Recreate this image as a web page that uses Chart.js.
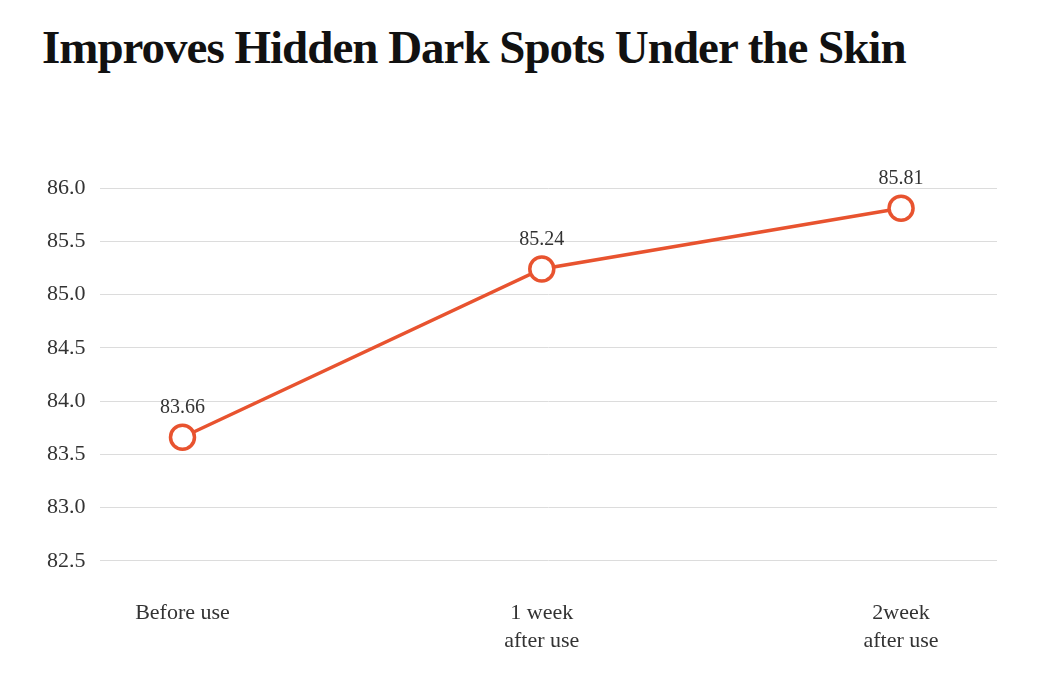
<!DOCTYPE html>
<html><head><meta charset="utf-8">
<script src="https://cdn.jsdelivr.net/npm/chart.js@4"></script>
<style>
body{margin:0;background:#fff;width:1050px;height:700px;overflow:hidden;position:relative}
h1{position:absolute;left:42px;top:20px;margin:0;font-family:"Liberation Serif","DejaVu Serif",serif;font-weight:bold;font-size:47px;letter-spacing:-1px;color:#111}
#c{position:absolute;left:0;top:0}
</style></head><body>
<h1>Improves Hidden Dark Spots Under the Skin</h1>
<canvas id="c" width="1050" height="700"></canvas>
<script>
const categories=[["Before use"],["1 week","after use"],["2week","after use"]];
const values=[83.66,85.24,85.81];
const yTicks=[82.5,83.0,83.5,84.0,84.5,85.0,85.5,86.0];
const color="#E8532F";
const font={family:"'Liberation Serif','DejaVu Serif',serif",size:22,lineHeight:1.3};
const labelPlugin={id:'lbl',afterDatasetsDraw(ch){const ctx=ch.ctx;const m=ch.getDatasetMeta(0);ctx.save();ctx.font="20px 'Liberation Serif',serif";ctx.fillStyle="#333";ctx.textAlign="center";ctx.textBaseline="bottom";m.data.forEach((p,i)=>ctx.fillText(values[i].toFixed(2),p.x,p.y-19));ctx.restore();}};
new Chart(document.getElementById('c'),{type:'line',
data:{datasets:[{data:values.map((v,i)=>({x:i,y:v})),borderColor:color,borderWidth:3.5,pointRadius:12,pointHoverRadius:12,pointBackgroundColor:'#fff',pointBorderColor:color,pointBorderWidth:3.5,clip:false}]},
options:{responsive:false,animation:false,layout:{padding:{top:188,left:33,right:53,bottom:14}},
plugins:{legend:{display:false},tooltip:{enabled:false}},
scales:{
x:{type:'linear',min:-0.231,max:2.267,grid:{display:false},border:{display:false},
afterBuildTicks(s){s.ticks=categories.map((c,i)=>({value:i}));},
ticks:{font,color:'#333',padding:30,maxRotation:0,callback:(v)=>categories[v]}},
y:{min:82.5,max:86.0,grid:{color:'#dcdcdc',drawTicks:false},border:{display:false},
afterBuildTicks(s){s.ticks=yTicks.map(v=>({value:v}));},
ticks:{font,color:'#333',padding:14,callback:v=>v.toFixed(1)}}}},
plugins:[labelPlugin]});
</script></body></html>
